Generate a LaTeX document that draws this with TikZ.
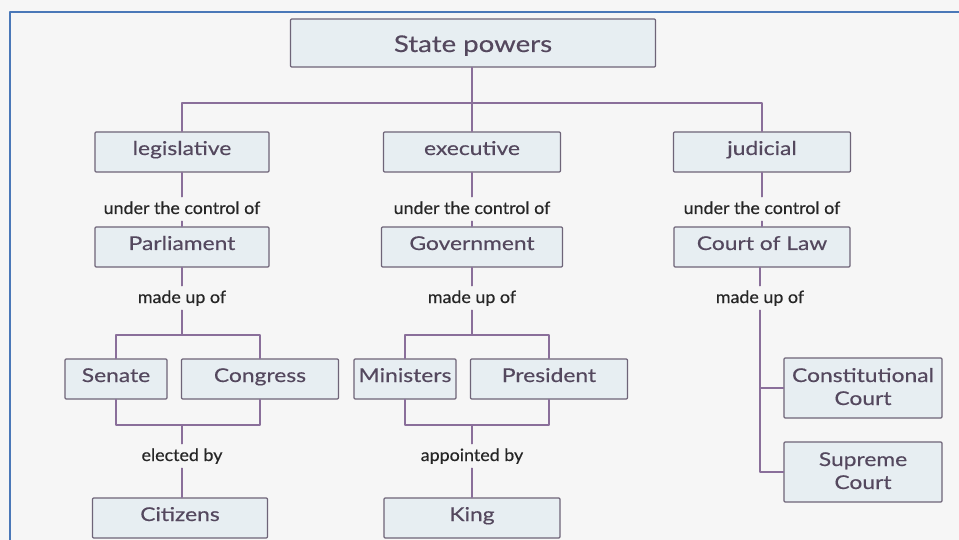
\documentclass[tikz,border=0pt]{standalone}
\usepackage{fontspec}
\setmainfont{Lato}
\newfontfamily\boxfont{Lato}[FakeStretch=1.2,FakeBold=0.35]
\newfontfamily\linkfont{Lato}[FakeStretch=1.05,FakeBold=0.35]
\definecolor{boxfill}{HTML}{E7EEF2}
\definecolor{boxline}{HTML}{6E6478}
\definecolor{boxtext}{HTML}{54485E}
\definecolor{wire}{HTML}{8A6F9A}
\definecolor{paper}{HTML}{F6F6F6}
\definecolor{frameblue}{HTML}{4A78B8}
\tikzset{
  unit/.style={draw=boxline,fill=boxfill,line width=1.1pt,text=boxtext,
    font=\boxfont\fontsize{19}{23}\selectfont,minimum height=40pt,inner sep=0pt,
    text height=15pt,text depth=9pt,
    align=center,rounded corners=1pt},
  twoline/.style={unit,minimum height=60pt,text height=37pt,text depth=3pt},
  link/.style={font=\linkfont\fontsize{17}{20}\selectfont,text=black!85,anchor=base,
    inner xsep=5pt,inner ysep=3pt,text height=14pt,text depth=4pt},
  wiring/.style={draw=wire,line width=1.2pt}
}
\begin{document}
\begin{tikzpicture}[x=1pt,y=-1pt,line cap=round,line join=round]
\useasboundingbox (0,0) rectangle (959,540);
\fill[paper] (0,0) rectangle (959,540);
\draw[frameblue,line width=2pt] (10,545) -- (10,12) -- (962,12);
% top level
\node[unit,minimum width=365pt,minimum height=48pt,text height=21pt,text depth=3pt,
  font=\boxfont\fontsize{23}{26}\selectfont] (top) at (473,43) {State powers};
\node[unit,minimum width=174pt] (leg) at (182,152) {legislative};
\node[unit,minimum width=177pt] (exe) at (472,152) {executive};
\node[unit,minimum width=177pt] (jud) at (762,152) {judicial};
\coordinate (bar) at (472,103);
\draw[wiring] (top.south -| bar) -- (exe.north);
\draw[wiring] (leg.north) -- (leg.north |- bar) -- (jud.north |- bar) -- (jud.north);
% second level
\node[link] (ctl1) at (182,214) {under the control of};
\node[link] (ctl2) at (472,214) {under the control of};
\node[link] (ctl3) at (762,214) {under the control of};
\node[unit,minimum width=174pt] (parl) at (182,247) {Parliament};
\node[unit,minimum width=181pt] (gov) at (472,247) {Government};
\node[unit,minimum width=176pt] (court) at (762,247) {Court of Law};
\foreach \a/\b/\c in {leg/ctl1/parl, exe/ctl2/gov, jud/ctl3/court}
{\draw[wiring] (\a) -- (\b); \draw[wiring] (\b) -- (\c);}
\node[link] (made1) at (182,303) {made up of};
\node[link] (made2) at (472,303) {made up of};
\node[link] (made3) at (760,303) {made up of};
\draw[wiring] (parl) -- (made1);
\draw[wiring] (gov) -- (made2);
\draw[wiring] (court.south -| made3) -- (made3);
% legislative branch
\node[unit,minimum width=102pt] (senate) at (116,379) {Senate};
\node[unit,minimum width=157pt] (congress) at (260,379) {Congress};
\coordinate (lt) at (182,335);
\coordinate (lb) at (182,425);
\draw[wiring] (made1) -- (lt);
\draw[wiring] (senate.north) |- (lt) -| (congress.north);
\draw[wiring] (senate.south) |- (lb) -| (congress.south);
\node[link] (elect) at (182,461) {elected by};
\node[unit,minimum width=175pt] (citizens) at (180,518) {Citizens};
\draw[wiring] (lb) -- (elect);
\draw[wiring] (elect) -- (citizens.north -| elect);
% executive branch
\node[unit,minimum width=102pt] (ministers) at (405,379) {Ministers};
\node[unit,minimum width=157pt] (president) at (549,379) {President};
\coordinate (et) at (472,335);
\coordinate (eb) at (472,425);
\draw[wiring] (made2) -- (et);
\draw[wiring] (ministers.north) |- (et) -| (president.north);
\draw[wiring] (ministers.south) |- (eb) -| (president.south);
\node[link] (appoint) at (472,461) {appointed by};
\node[unit,minimum width=176pt] (king) at (472,518) {King};
\draw[wiring] (eb) -- (appoint);
\draw[wiring] (appoint) -- (king);
% judicial branch
\node[twoline,minimum width=158pt] (const) at (863,388) {Constitutional\\Court};
\node[twoline,minimum width=158pt] (supreme) at (863,472) {Supreme\\Court};
\draw[wiring] (made3) -- (made3 |- supreme.west) -- (supreme.west);
\draw[wiring] (const.west) -- (const.west -| made3);
\end{tikzpicture}
\end{document}
